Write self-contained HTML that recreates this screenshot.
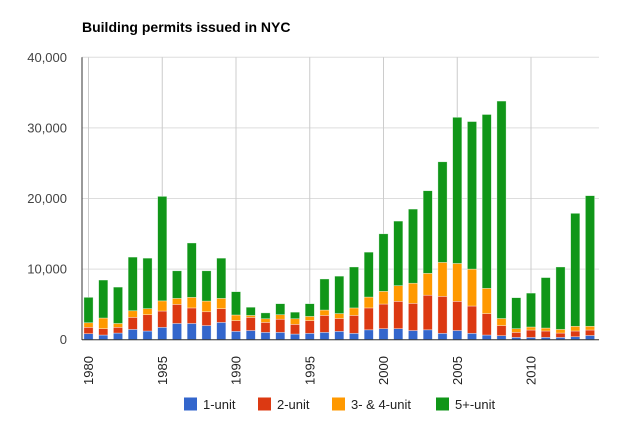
<!DOCTYPE html>
<html><head><meta charset="utf-8"><style>
html,body{margin:0;padding:0;background:#fff;}
svg{display:block;font-family:"Liberation Sans",Arial,sans-serif;}
</style></head><body>
<svg id="c" width="640" height="425" viewBox="0 0 640 425" xmlns="http://www.w3.org/2000/svg">
<text x="82" y="32" font-size="14" font-weight="bold" fill="#000">Building permits issued in NYC</text>
</svg>
<script>
var s=document.getElementById('c'),NS='http://www.w3.org/2000/svg',h='';
var y0=339.7,k=282.4/40000;
function Y(v){return y0-v*1000*k;}
// gridlines
for(var i=0;i<=4;i++){var y=Y(i*10);h+='<line x1="82" x2="599" y1="'+y+'" y2="'+y+'" stroke="#ddd" stroke-width="1"/>';
h+='<text x="67" y="'+(y+4.5)+'" font-size="13" fill="#444" text-anchor="end">'+(i?(i*10)+',000':'0')+'</text>';}
for(var yr=1980;yr<=2010;yr+=5){var x=88.5+(yr-1980)*14.75;h+='<line x1="'+x+'" x2="'+x+'" y1="57.3" y2="339.7" stroke="#ccc" stroke-width="1"/>';
h+='<text transform="translate('+(x+4.5)+',385) rotate(-90)" font-size="13" fill="#222">'+yr+'</text>';}
var d=[[0.85,1.75,2.4,6.0],[0.66,1.56,3.07,8.45],[0.94,1.75,2.3,7.45],[1.46,3.16,4.1,11.7],[1.23,3.54,4.4,11.55],[1.75,4.06,5.5,20.3],[2.3,5.0,5.85,9.76],[2.3,4.5,6.0,13.7],[2.0,3.96,5.47,9.76],[2.45,4.4,5.85,11.55],[1.18,2.7,3.5,6.8],[1.3,3.16,3.44,4.6],[1.04,2.45,2.97,3.8],[1.04,2.9,3.54,5.1],[0.8,2.17,2.97,3.9],[0.9,2.7,3.3,5.1],[1.04,3.44,4.2,8.6],[1.18,3.0,3.7,9.0],[0.9,3.44,4.5,10.3],[1.4,4.5,6.04,12.4],[1.56,5.05,6.85,15.0],[1.56,5.43,7.65,16.8],[1.3,5.15,8.0,18.5],[1.4,6.3,9.4,21.1],[0.9,6.14,10.95,25.2],[1.3,5.43,10.8,31.5],[0.9,4.77,10.0,30.9],[0.66,3.7,7.27,31.9],[0.57,2.0,3.0,33.8],[0.33,1.04,1.56,5.95],[0.33,1.37,1.8,6.6],[0.33,1.23,1.65,8.8],[0.33,0.94,1.46,10.3],[0.42,1.23,1.9,17.9],[0.6,1.37,1.9,20.4]];
var col=['#3366cc','#dc3912','#ff9900','#109618'];
d.forEach(function(b,i){var x=88.5+i*14.75-4.6,prev=0;b.forEach(function(v,j){var yt=Y(v),yb=Y(prev);
h+='<rect x="'+x+'" y="'+yt+'" width="9.2" height="'+Math.max(0,yb-yt)+'" fill="'+col[j]+'" stroke="#fff" stroke-opacity="0.6" stroke-width="0.6"/>';prev=v;});});
h+='<line x1="82" x2="82" y1="57.3" y2="340" stroke="#333" stroke-width="1"/>';
h+='<line x1="82" x2="599" y1="339.7" y2="339.7" stroke="#333" stroke-width="1"/>';
var L=[[184,'1-unit'],[258,'2-unit'],[332,'3- &amp; 4-unit'],[436,'5+-unit']];
L.forEach(function(l,i){h+='<rect x="'+l[0]+'" y="397.5" width="13" height="13" fill="'+col[i]+'"/><text x="'+(l[0]+19)+'" y="409" font-size="13" fill="#222">'+l[1]+'</text>';});
s.insertAdjacentHTML('beforeend',h);
</script>
</body></html>
